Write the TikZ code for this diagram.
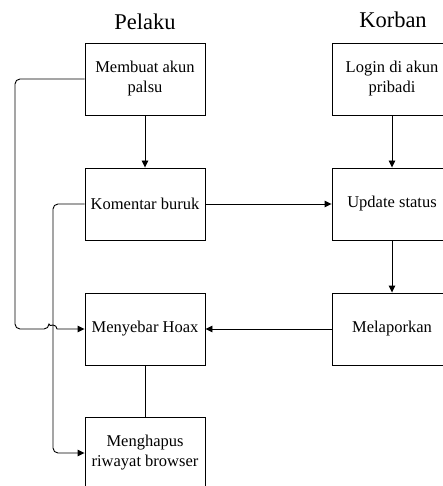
\documentclass[tikz,border=0pt]{standalone}
\usepackage{fontspec}
\setmainfont{Liberation Serif}
\usetikzlibrary{arrows.meta}
\begin{document}
\begin{tikzpicture}[x=1pt,y=-1pt,
  box/.style={draw, line width=0.9pt, minimum width=120pt, minimum height=72pt, align=center, inner sep=0pt, font=\fontsize{16.5}{20}\selectfont},
  title/.style={font=\fontsize{22.5}{26}\selectfont, inner sep=0pt},
  conn/.style={line width=0.9pt},
  arr/.style={conn, -{Triangle[length=7pt,width=6.5pt]}}]
\useasboundingbox (0,0) rectangle (442,486);
\node[title] (tp) at (145,22) {Pelaku};
\node[title] (tk) at (393,20) {Korban};
\node[box] (m1) at (145,79) {Membuat akun\\palsu};
\node[box] (m2) at (145,204) {Komentar buruk};
\node[box] (m3) at (145,329) {Menyebar Hoax};
\node[box] (m4) at (145,453) {Menghapus\\riwayat browser};
\node[box] (k1) at (392,79) {Login di akun\\pribadi};
\node[box] (k2) at (392,204) {Update status};
\node[box] (k3) at (392,329) {Melaporkan};
\draw[arr] (m1) -- (m2);
\draw[arr] (k1) -- (k2);
\draw[arr] (k2) -- (k3);
\draw[arr] (m2) -- (k2);
\draw[arr] (k3) -- (m3);
\draw[conn] (m3) -- (m4);
\draw[arr, rounded corners=5pt] (m1.west) -- (15,79) -- (15,329) -- (49,329) [sharp corners] arc[start angle=180, end angle=0, radius=4pt] -- (m3.west);
\draw[arr, rounded corners=5pt] (m2.west) -- (53,204) -- (53,453) -- (m4.west);
\end{tikzpicture}
\end{document}
